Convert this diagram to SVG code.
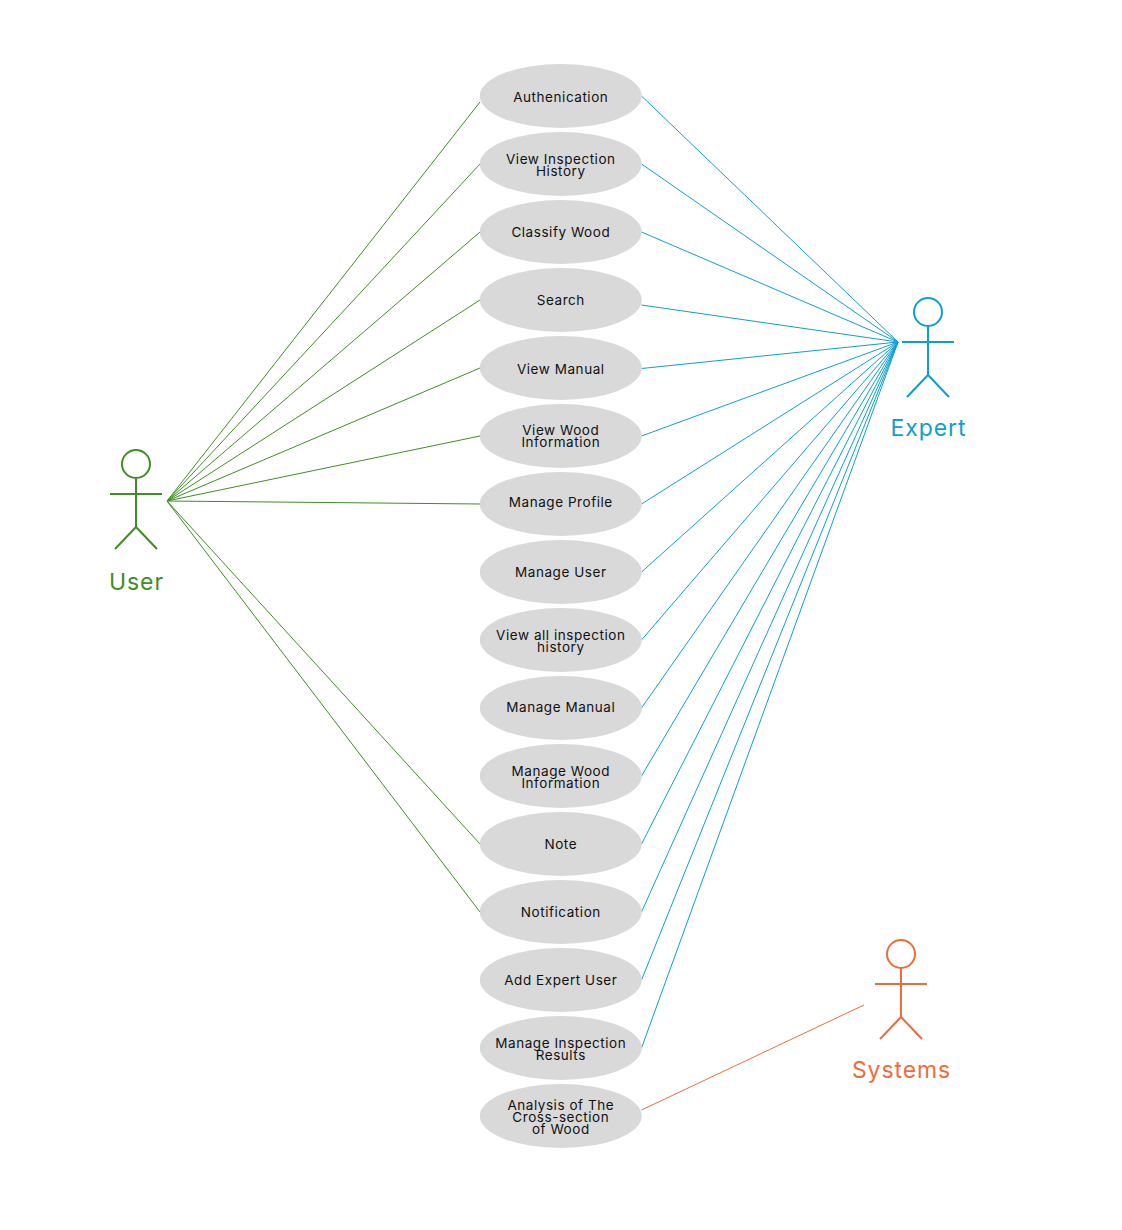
<svg xmlns="http://www.w3.org/2000/svg" width="1122" height="1230" viewBox="0 0 1122 1230">
<style>
.bg{fill:#fff}
.uc ellipse{fill:#d9d9d9}
.uc text{font-family:"Inter","Open Sans","Liberation Sans",sans-serif;font-size:13.5px;letter-spacing:.55px;fill:#111;text-anchor:middle}
.actor{fill:none;stroke-width:2}
.name{font-family:"Inter","Open Sans","Liberation Sans",sans-serif;font-size:23px;letter-spacing:.9px;text-anchor:middle}
.u{stroke:#3f8d24}.e{stroke:#0d9fcf}.s{stroke:#ee6c3b}
#connectors line{stroke-width:1}
</style>
<rect class="bg" width="1122" height="1230"/>
<g id="connectors">
<g class="u">
<line x1="167" y1="501" x2="480" y2="102"/>
<line x1="167" y1="501" x2="480" y2="164"/>
<line x1="167" y1="501" x2="480" y2="232"/>
<line x1="167" y1="501" x2="480" y2="300"/>
<line x1="167" y1="501" x2="480" y2="368"/>
<line x1="167" y1="501" x2="480" y2="436"/>
<line x1="167" y1="501" x2="480" y2="504"/>
<line x1="167" y1="501" x2="480" y2="844"/>
<line x1="167" y1="501" x2="480" y2="912"/>
</g>
<g class="e">
<line x1="898" y1="342" x2="641.500" y2="96"/>
<line x1="898" y1="342" x2="641.500" y2="164"/>
<line x1="898" y1="342" x2="641.500" y2="232"/>
<line x1="898" y1="342" x2="641.500" y2="305"/>
<line x1="898" y1="342" x2="641.500" y2="368.500"/>
<line x1="898" y1="342" x2="641.500" y2="436"/>
<line x1="898" y1="342" x2="641.500" y2="504"/>
<line x1="898" y1="342" x2="641.500" y2="572"/>
<line x1="898" y1="342" x2="641.500" y2="640"/>
<line x1="898" y1="342" x2="641.500" y2="708"/>
<line x1="898" y1="342" x2="641.500" y2="776"/>
<line x1="898" y1="342" x2="641.500" y2="844"/>
<line x1="898" y1="342" x2="641.500" y2="912"/>
<line x1="898" y1="342" x2="641.500" y2="980"/>
<line x1="898" y1="342" x2="641.500" y2="1048"/>
</g>
<line class="s" x1="864" y1="1005" x2="641.500" y2="1110"/>
</g>
<g id="uc1" class="uc"><ellipse cx="560.800" cy="96" rx="81" ry="32"/><text x="560.800" y="102">Authenication</text></g>
<g id="uc2" class="uc"><ellipse cx="560.800" cy="164" rx="81" ry="32"/><text x="560.800" y="164">View Inspection</text><text x="560.800" y="176">History</text></g>
<g id="uc3" class="uc"><ellipse cx="560.800" cy="232" rx="81" ry="32"/><text x="560.800" y="237">Classify Wood</text></g>
<g id="uc4" class="uc"><ellipse cx="560.800" cy="300" rx="81" ry="32"/><text x="560.800" y="305">Search</text></g>
<g id="uc5" class="uc"><ellipse cx="560.800" cy="368" rx="81" ry="32"/><text x="560.800" y="374">View Manual</text></g>
<g id="uc6" class="uc"><ellipse cx="560.800" cy="436" rx="81" ry="32"/><text x="560.800" y="435">View Wood</text><text x="560.800" y="447">Information</text></g>
<g id="uc7" class="uc"><ellipse cx="560.800" cy="504" rx="81" ry="32"/><text x="560.800" y="507">Manage Profile</text></g>
<g id="uc8" class="uc"><ellipse cx="560.800" cy="572" rx="81" ry="32"/><text x="560.800" y="577">Manage User</text></g>
<g id="uc9" class="uc"><ellipse cx="560.800" cy="640" rx="81" ry="32"/><text x="560.800" y="640">View all inspection</text><text x="560.800" y="652">history</text></g>
<g id="uc10" class="uc"><ellipse cx="560.800" cy="708" rx="81" ry="32"/><text x="560.800" y="712">Manage Manual</text></g>
<g id="uc11" class="uc"><ellipse cx="560.800" cy="776" rx="81" ry="32"/><text x="560.800" y="776">Manage Wood</text><text x="560.800" y="788">Information</text></g>
<g id="uc12" class="uc"><ellipse cx="560.800" cy="844" rx="81" ry="32"/><text x="560.800" y="849">Note</text></g>
<g id="uc13" class="uc"><ellipse cx="560.800" cy="912" rx="81" ry="32"/><text x="560.800" y="917">Notification</text></g>
<g id="uc14" class="uc"><ellipse cx="560.800" cy="980" rx="81" ry="32"/><text x="560.800" y="985">Add Expert User</text></g>
<g id="uc15" class="uc"><ellipse cx="560.800" cy="1048" rx="81" ry="32"/><text x="560.800" y="1048">Manage Inspection</text><text x="560.800" y="1060">Results</text></g>
<g id="uc16" class="uc"><ellipse cx="560.800" cy="1116" rx="81" ry="32"/><text x="560.800" y="1110">Analysis of The</text><text x="560.800" y="1122">Cross-section</text><text x="560.800" y="1134">of Wood</text></g>
<g id="user"><g class="actor u"><circle cx="136" cy="464" r="14"/><path d="M136 478V527M110 494H162M115 549L136 527L157 549"/></g><text class="name" x="136.500" y="590" fill="#3f8d24">User</text></g>
<g id="expert"><g class="actor e"><circle cx="928" cy="312" r="14"/><path d="M928 326V375M902 342H954M907 397L928 375L949 397"/></g><text class="name" x="928.500" y="436" fill="#0d9fcf">Expert</text></g>
<g id="systems"><g class="actor s"><circle cx="901" cy="954" r="14"/><path d="M901 968V1017M875 984H927M880 1039L901 1017L922 1039"/></g><text class="name" x="901.500" y="1078" fill="#ee6c3b">Systems</text></g>
</svg>
